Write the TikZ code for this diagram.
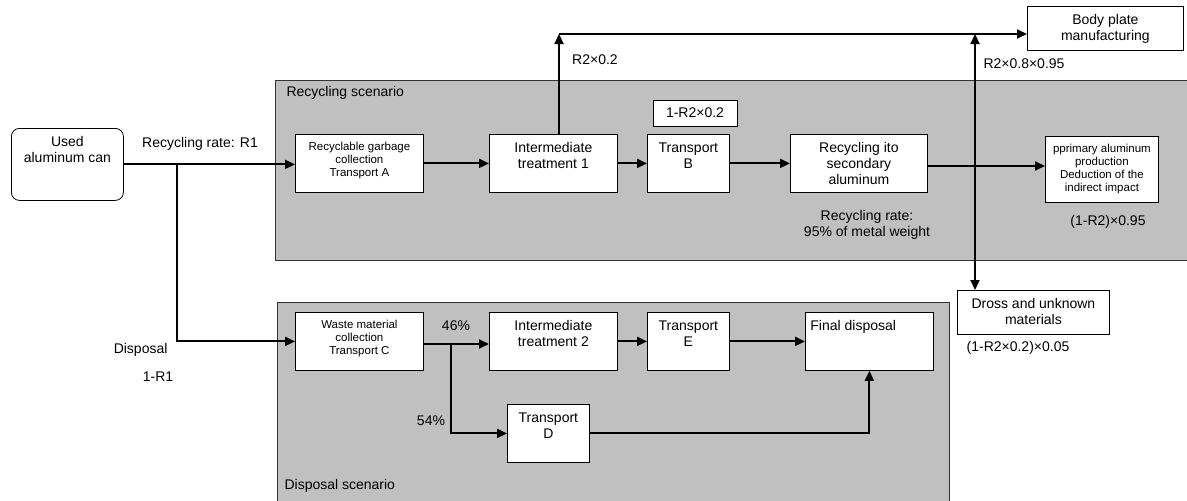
\documentclass[tikz,border=0pt]{standalone}
\usepackage{fontspec}
\setmainfont{Liberation Sans}
\usepackage{tikz}
\usetikzlibrary{arrows.meta,positioning,calc}
\definecolor{scengray}{RGB}{192,192,192}
\newcommand{\topbox}[3]{\parbox[t][#2][t]{#1}{\centering #3}}

\begin{document}
\begin{tikzpicture}[x=1pt, y=-1pt, >={Triangle[length=10pt,width=9pt]},
  big/.style={font=\fontsize{14}{16}\selectfont},
  small/.style={font=\fontsize{11.5}{13}\selectfont},
  proc/.style={draw, fill=white, line width=0.8pt, inner xsep=0pt, inner ysep=8pt, anchor=north west},
  flow/.style={->, line width=2pt},
  scen/.style={draw=black!80, fill=scengray, line width=0.8pt}]
  \useasboundingbox (0,0) rectangle (1187,501);

  % Scenarios
  \draw[scen] (275,80) rectangle (1192,260);
  \draw[scen] (277,302) rectangle (949,506);
  \node[big, anchor=west] (recscen) at (283,93) {Recycling scenario};
  \node[big, anchor=west] (disscen) at (281,486) {Disposal scenario};

  % Processes
  \node[proc, big, rounded corners=8pt] (can) at (11,128) {\topbox{112pt}{56pt}{Used\\aluminum can}};
  \node[proc, small] (colA) at (295,134) {\topbox{128pt}{42pt}{Recyclable garbage\\collection\\Transport A}};
  \node[proc, big] (it1) at (489,134) {\topbox{128pt}{42pt}{Intermediate\\treatment 1}};
  \node[proc, big] (trB) at (647,134) {\topbox{82pt}{42pt}{Transport\\B}};
  \node[draw, fill=white, line width=0.8pt, minimum width=84pt, minimum height=26pt, big] (rate) at (695,113) {1-R2×0.2};
  \node[proc, big] (sec) at (790,134) {\topbox{137pt}{42pt}{Recycling ito\\secondary\\aluminum}};
  \node[proc, small] (prim) at (1045,136) {\topbox{113pt}{50pt}{pprimary aluminum\\production\\Deduction of the\\indirect impact}};
  \node[proc, big] (body) at (1027,6) {\topbox{156pt}{28pt}{Body plate\\manufacturing}};
  \node[proc, big] (dross) at (957,290) {\topbox{152pt}{28pt}{Dross and unknown\\materials}};

  \node[proc, small] (colC) at (295,312) {\topbox{128pt}{42pt}{Waste material\\collection\\Transport C}};
  \node[proc, big] (it2) at (489,312) {\topbox{128pt}{42pt}{Intermediate\\treatment 2}};
  \node[proc, big] (trE) at (647,312) {\topbox{82pt}{42pt}{Transport\\E}};
  \node[proc, big] (final) at (805,312) {\topbox{128pt}{42pt}{\raggedright\hspace*{5pt}Final disposal}};
  \node[proc, big] (trD) at (507,404) {\topbox{82pt}{42pt}{Transport\\D}};

  % Split points
  \coordinate (sp1) at (177,164);
  \coordinate (top) at (559,34);
  \coordinate (cross) at (975,166);
  \coordinate (sp2) at (451,344);

  % Recycling flows
  \draw[flow] (can.east) -- (can.east -| colA.west);
  \draw[flow] (sp1) |- (colC.west);
  \draw[flow] (colA.east) -- (it1.west);
  \draw[flow] (it1.east) -- (trB.west);
  \draw[flow] (trB.east) -- (sec.west);
  \draw[flow] (sec.east |- cross) -- (cross -| prim.west);
  \draw[flow] (top |- it1.north) -- (top);
  \draw[flow] (top) -- (top -| body.west);
  \draw[flow] (cross) -- (cross |- top);
  \draw[flow] (cross) -- (cross |- dross.north);

  % Disposal flows
  \draw[flow] (colC.east |- sp2) -- (sp2 -| it2.west);
  \draw[flow] (sp2) |- (trD.west);
  \draw[flow] (it2.east) -- (trE.west);
  \draw[flow] (trE.east) -- (final.west);
  \draw[flow] (trD.east) -| (final.south);

  % Rates
  \node[big] (r1) at (200,144) {Recycling rate: R1};
  \node[big, anchor=east] (disp) at (171,350) {Disposal};
  \node[big] (r1dis) at (158,377) {1-R1};
  \node[big] (r2up) at (595,60) {R2×0.2};
  \node[big] (r2body) at (1024,64) {R2×0.8×0.95};
  \node[big, align=center] (metal) at (867,225) {Recycling rate:\\95\% of metal weight};
  \node[big] (r2prim) at (1108,222) {(1-R2)×0.95};
  \node[big] (r2dross) at (1018,348) {(1-R2×0.2)×0.05};
  \node[big] (p46) at (456,326) {46\%};
  \node[big] (p54) at (431,421) {54\%};
\end{tikzpicture}
\end{document}
